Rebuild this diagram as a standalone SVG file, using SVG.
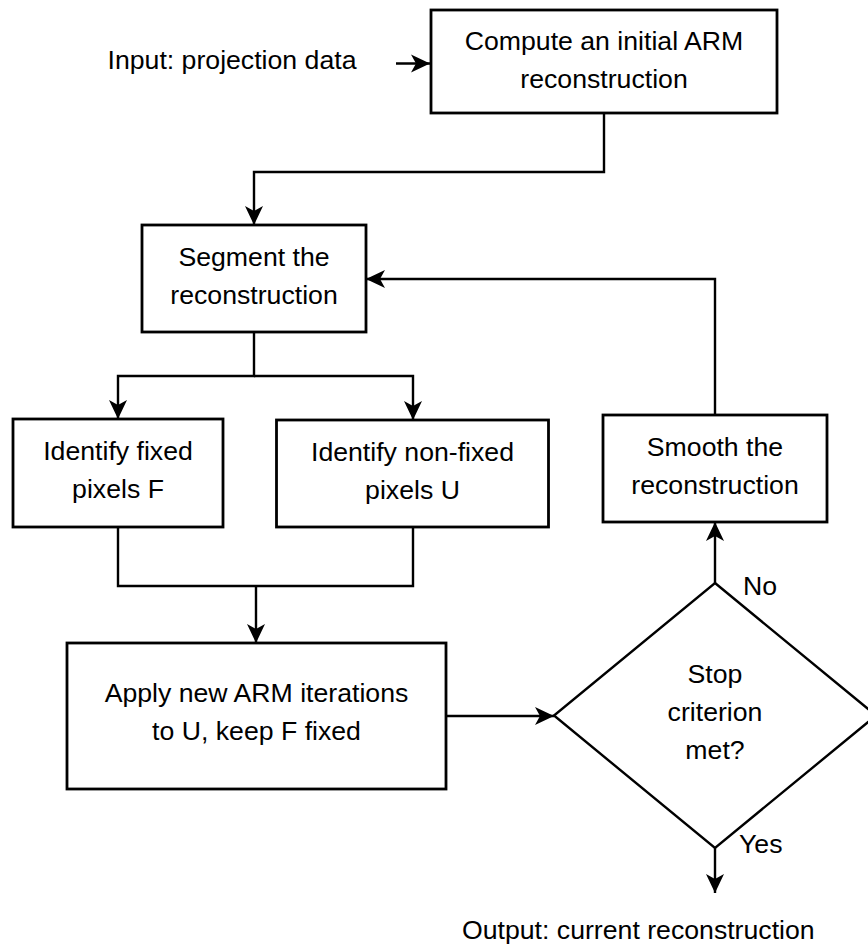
<svg xmlns="http://www.w3.org/2000/svg" width="868" height="947" viewBox="0 0 868 947">
  <style>
    .box { fill: #ffffff; stroke: #000000; stroke-width: 2.8; }
    .dia { fill: #ffffff; stroke: #000000; stroke-width: 2.4; }
    .conn { fill: none; stroke: #000000; stroke-width: 2.4; }
    text { font-family: "Liberation Sans", Arial, sans-serif; font-size: 26.67px; fill: #000000; }
    .c { text-anchor: middle; }
  </style>
  <defs>
    <marker id="ah" viewBox="-21 -11 22 22" markerWidth="22" markerHeight="22" refX="0" refY="0" orient="auto" markerUnits="userSpaceOnUse">
      <path d="M0,0 L-19,-9 L-14,0 L-19,9 Z" fill="#000000"/>
    </marker>
  </defs>
  <rect width="868" height="947" fill="#ffffff"/>

  <g id="connectors">
    <path class="conn" d="M396,63.5 H430" marker-end="url(#ah)"/>
    <path class="conn" d="M604,113 V172 H254 V225" marker-end="url(#ah)"/>
    <path class="conn" d="M254,332 V376 H118 V419" marker-end="url(#ah)"/>
    <path class="conn" d="M254,376 H413 V420" marker-end="url(#ah)"/>
    <path class="conn" d="M118,527 V586 H413 V527"/>
    <path class="conn" d="M256,586 V643" marker-end="url(#ah)"/>
    <path class="conn" d="M446,716 H554" marker-end="url(#ah)"/>
    <path class="conn" d="M715,583 V522" marker-end="url(#ah)"/>
    <path class="conn" d="M715,415 V279 H366" marker-end="url(#ah)"/>
    <path class="conn" d="M715,848 V893" marker-end="url(#ah)"/>
  </g>

  <g id="input">
    <text x="107.5" y="69">Input: projection data</text>
  </g>

  <g id="compute">
    <rect class="box" x="431" y="10" width="346" height="103"/>
    <text class="c" x="604" y="50">Compute an initial ARM</text>
    <text class="c" x="604" y="88">reconstruction</text>
  </g>

  <g id="segment">
    <rect class="box" x="142" y="225" width="224" height="107"/>
    <text class="c" x="254" y="266">Segment the</text>
    <text class="c" x="254" y="304">reconstruction</text>
  </g>

  <g id="fixed">
    <rect class="box" x="13" y="419" width="210" height="108"/>
    <text class="c" x="118" y="460">Identify fixed</text>
    <text class="c" x="118" y="498">pixels F</text>
  </g>

  <g id="nonfixed">
    <rect class="box" x="276.5" y="420" width="272" height="107"/>
    <text class="c" x="412.5" y="461">Identify non-fixed</text>
    <text class="c" x="412.5" y="499">pixels U</text>
  </g>

  <g id="apply">
    <rect class="box" x="67" y="643" width="379" height="146"/>
    <text class="c" x="256.5" y="702">Apply new ARM iterations</text>
    <text class="c" x="256.5" y="740">to U, keep F fixed</text>
  </g>

  <g id="smooth">
    <rect class="box" x="603" y="415" width="224" height="107"/>
    <text class="c" x="715" y="456">Smooth the</text>
    <text class="c" x="715" y="494">reconstruction</text>
  </g>

  <g id="stop">
    <polygon class="dia" points="715,583 876,715.5 715,848 554,715.5"/>
    <text class="c" x="715" y="683">Stop</text>
    <text class="c" x="715" y="721">criterion</text>
    <text class="c" x="715" y="759">met?</text>
  </g>

  <g id="labels">
    <text x="743" y="595">No</text>
    <text x="739" y="853">Yes</text>
  </g>

  <g id="output">
    <text x="462" y="939">Output: current reconstruction</text>
  </g>
</svg>
